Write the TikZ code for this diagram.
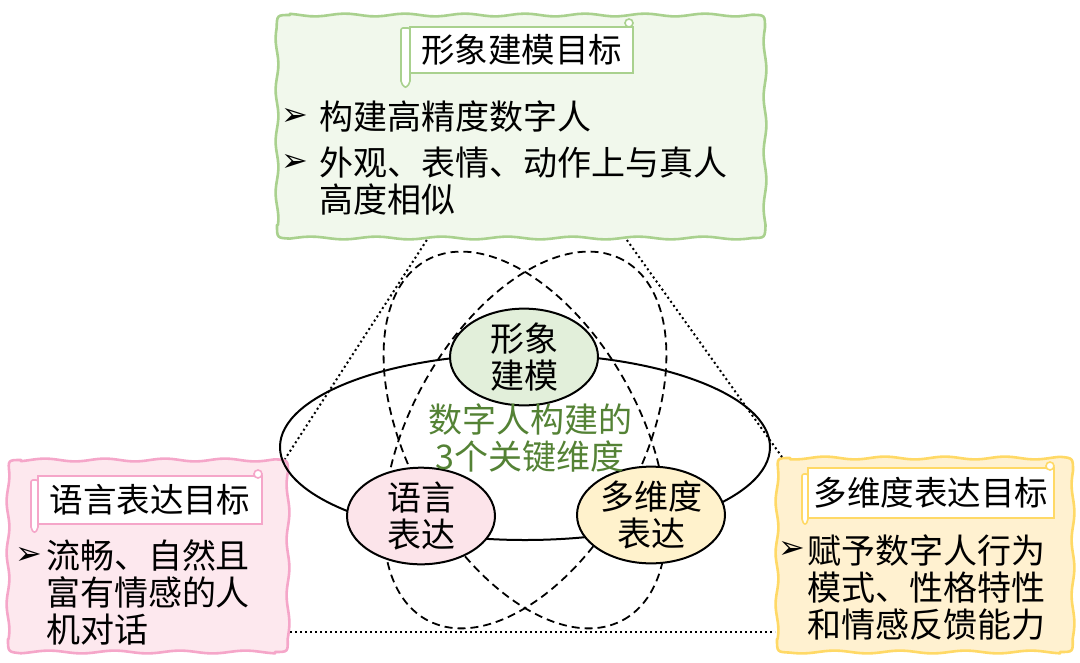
\documentclass[tikz,border=0pt]{standalone}
\usepackage{fontspec}
\newfontfamily\cjk{Noto Sans CJK SC}
\newfontfamily\dv{DejaVu Sans}
\usetikzlibrary{shapes.geometric,calc}
\definecolor{gB}{HTML}{A9D18E}
\definecolor{gF}{HTML}{F1F8EC}
\definecolor{pB}{HTML}{F5A6C9}
\definecolor{pF}{HTML}{FDE8EE}
\definecolor{yB}{HTML}{FFD966}
\definecolor{yF}{HTML}{FFF1D0}
\definecolor{gE}{HTML}{E2EFDA}
\definecolor{pE}{HTML}{FCE4EA}
\definecolor{yE}{HTML}{FFF2CC}
\definecolor{tG}{HTML}{548235}
% wavy rounded frame: #1 draw, #2 fill, #3 x1, #4 y1, #5 x2, #6 y2
\newcommand\wavyframe[6]{%
  \pgfmathsetmacro\wfa{#3+13}\pgfmathsetmacro\wfb{#5-13}%
  \pgfmathsetmacro\wfc{#4+13}\pgfmathsetmacro\wfd{#6-13}%
  \draw[line width=2.6pt, draw=#1, fill=#2, line join=round]
   (\wfa,#4) -- plot[domain=\wfa:\wfb, samples=70] (\x, {#4+1.4*sin(\x*6)})
   .. controls (#5,#4) .. (#5,\wfc)
   -- plot[domain=\wfc:\wfd, samples=40] ({#5+1.4*sin(\x*6.5)}, \x)
   .. controls (#5,#6) .. (\wfb,#6)
   -- plot[domain=\wfb:\wfa, samples=70] (\x, {#6+1.4*sin(\x*5.5)})
   .. controls (#3,#6) .. (#3,\wfd)
   -- plot[domain=\wfd:\wfc, samples=40] ({#3+1.4*sin(\x*7)}, \x)
   .. controls (#3,#4) .. (\wfa,#4) -- cycle;}
\tikzset{
  boxanchor/.style={inner sep=0, outer sep=0},
  titlebox/.style={draw=#1, fill=white, line width=1.6pt, inner sep=0, outer sep=0,
    font=\fontsize{33.5}{37}\selectfont\cjk},
  roll/.style={draw=#1, fill=white, line width=1.6pt, rounded corners=2pt},
  txt/.style={inner sep=0, outer sep=0, align=left, font=\fontsize{34}{37}\selectfont\cjk},
  bul/.style={inner sep=0, outer sep=0, font=\fontsize{32}{32}\selectfont\dv},
  dim/.style={ellipse, draw=black, line width=2pt, fill=#1, inner sep=0,
    minimum width=148pt, minimum height=90pt, align=center,
    font=\fontsize{34}{37}\selectfont\cjk},
  dashell/.style={ellipse, draw=black, dash pattern=on 8pt off 5pt, line width=1.8pt,
    inner sep=0, minimum width=410pt, minimum height=232pt},
  dotline/.style={line width=2pt, dash pattern=on 2pt off 3pt}
}
\begin{document}
\begin{tikzpicture}[x=1pt,y=-1pt]
\useasboundingbox (0,0) rectangle (1080,662);
% goal boxes
\wavyframe{gB}{gF}{277}{15}{765}{238}
\wavyframe{pB}{pF}{8}{460}{288}{652}
\wavyframe{yB}{yF}{777}{458}{1073}{652}
\node[boxanchor, minimum width=488pt, minimum height=223pt] (tb) at (521,126.5) {};
\node[boxanchor, minimum width=280pt, minimum height=192pt] (lb) at (148,556) {};
\node[boxanchor, minimum width=296pt, minimum height=194pt] (rb) at (925,555) {};
% dotted triangle
\draw[dotline] ($(tb.south west)!0.307!(tb.south east)+(0,2)$) -- ($(lb.north east)+(-3,-1)$);
\draw[dotline] ($(tb.south west)!0.717!(tb.south east)+(0,2)$) -- ($(rb.north west)+(5,-1)$);
\coordinate (lbp) at ($(lb.north east)!0.895!(lb.south east)+(2,0)$);
\draw[dotline] (lbp) -- ($(lbp -| rb.west)+(-2,0)$);
% scroll titles
\node[titlebox=gB, minimum width=223pt, minimum height=46pt] (tt) at (521.5,50) {形象建模目标};
\draw[roll=gB] ($(tt.north west)+(-9,1)$) -- ($(tt.south west)+(-9,10)$) -- ($(tt.south west)+(-4.5,15)$) -- ($(tt.south west)+(0,10)$) -- ($(tt.north west)+(0,1)$) -- cycle;
\draw[roll=gB] ($(tt.north east)+(-4,-4)$) circle (4);
\node[titlebox=pB, minimum width=224pt, minimum height=48pt] (lt) at (150,500) {语言表达目标};
\draw[roll=pB] ($(lt.north west)+(-7,4)$) -- ($(lt.south west)+(-7,5)$) -- ($(lt.south west)+(-3.5,9)$) -- ($(lt.south west)+(0,5)$) -- ($(lt.north west)+(0,4)$) -- cycle;
\draw[roll=pB] ($(lt.north east)+(-4,-2)$) circle (4);
\node[titlebox=yB, minimum width=246pt, minimum height=50pt] (rt) at (931,493) {多维度表达目标};
\draw[roll=yB] ($(rt.north west)+(-6,6)$) -- ($(rt.south west)+(-6,3)$) -- ($(rt.south west)+(-3,7)$) -- ($(rt.south west)+(0,3)$) -- ($(rt.north west)+(0,6)$) -- cycle;
\draw[roll=yB] ($(rt.north east)+(-4,-2)$) circle (4);
% bullets
\node[bul] (ba1) at (295,117) {➢};
\node[txt, anchor=west] (t1) at (319,117) {构建高精度数字人};
\node[bul] (ba2) at (295,163) {➢};
\node[txt, anchor=west] (t2) at (319,181) {外观、表情、动作上与真人\\高度相似};
\node[bul] (ba3) at (29,556) {➢};
\node[txt, anchor=west] (t3) at (46,592) {流畅、自然且\\富有情感的人\\机对话};
\node[bul] (ba4) at (792,550) {➢};
\node[txt, anchor=west] (t4) at (807,588) {赋予数字人行为\\模式、性格特性\\和情感反馈能力};
% central diagram
\node[dashell, rotate=-61.4] (da) at (525,440) {};
\node[dashell, rotate=61.4] (db) at (525,440) {};
\node[ellipse, draw=black, line width=2pt, inner sep=0, minimum width=490pt, minimum height=186pt] (ring) at (525,447) {};
\node[dim=gE] (m) at (524,357) {形象\\建模};
\node[dim=pE] (y) at (421,516) {语言\\表达};
\node[dim=yE] (d) at (651,515) {多维度\\表达};
\node[txt, align=center, text=tG] (c) at (530,438) {数字人构建的\\3个关键维度};
\end{tikzpicture}
\end{document}
